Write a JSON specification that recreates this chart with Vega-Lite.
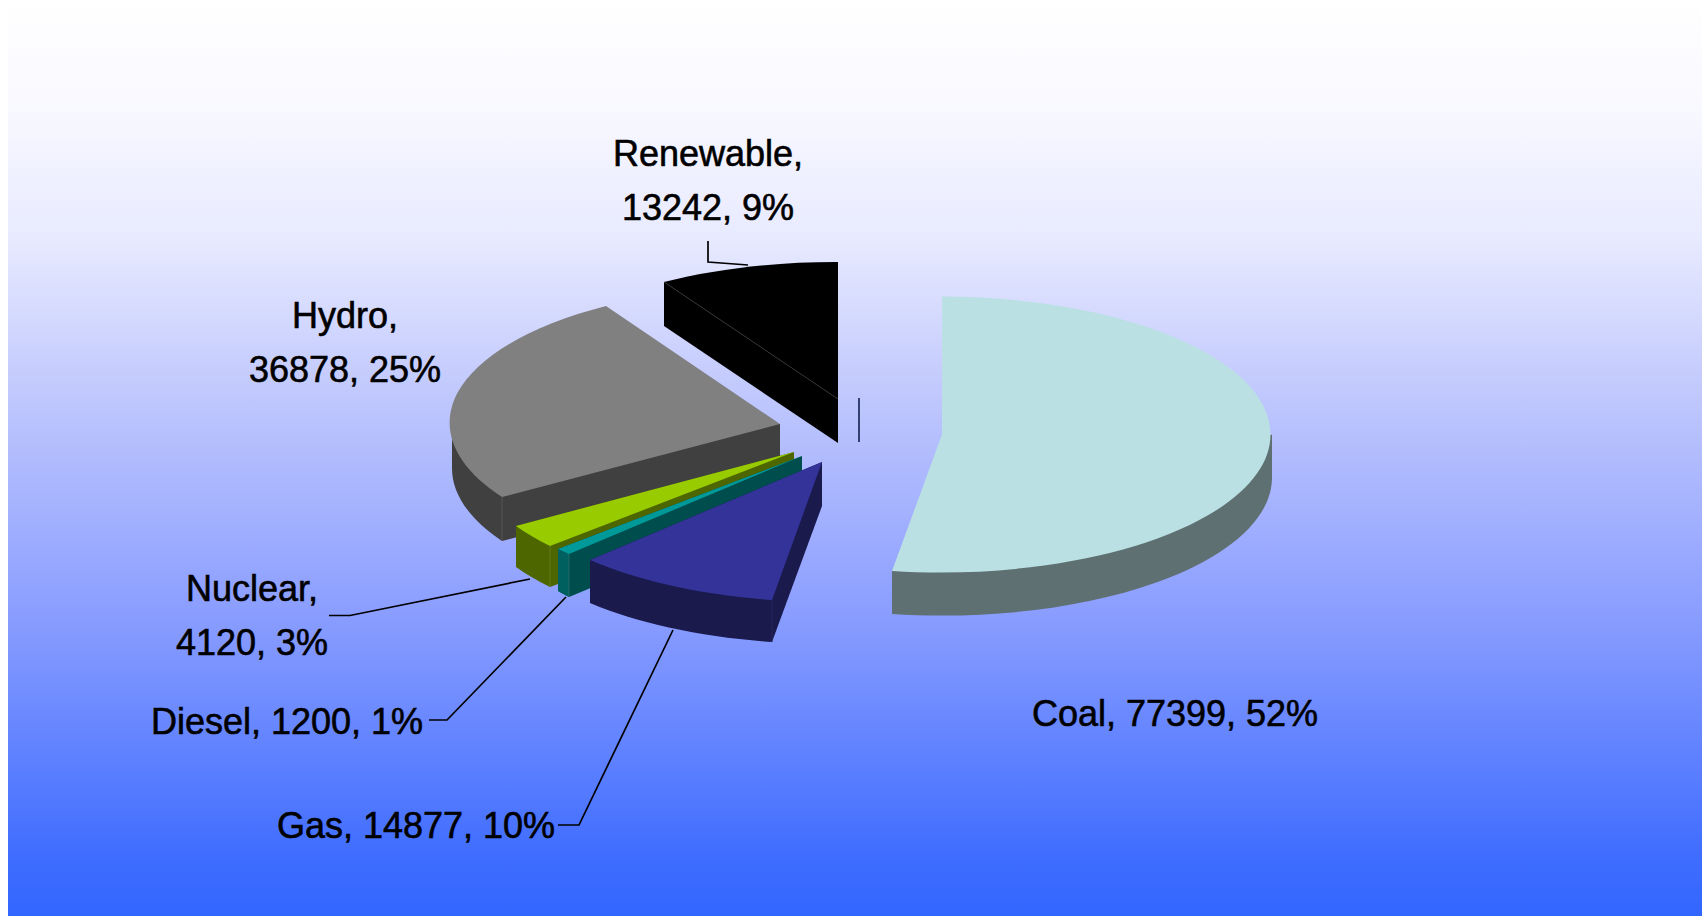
{
"$schema":"https://vega.github.io/schema/vega-lite/v6.json",
"width":1694,"height":916,
"autosize":{"type":"none"},
"padding":{"left":8,"top":0,"right":0,"bottom":0},
"background":"#ffffff",
"view":{"stroke":null,"fill":{"gradient":"linear","x1":0,"y1":0,"x2":0,"y2":1,"stops":[{"offset":0,"color":"#ffffff"},{"offset":0.12,"color":"#f8f8ff"},{"offset":0.26,"color":"#e8eaff"},{"offset":0.43,"color":"#c0c8fd"},{"offset":0.61,"color":"#98a8ff"},{"offset":0.69,"color":"#859aff"},{"offset":0.94,"color":"#3e6cff"},{"offset":1,"color":"#3366ff"}]}},
"data":{"values":[
{"source":"Renewable","mw":13242,"share":9,"label":"Renewable,\n13242, 9%"},
{"source":"Hydro","mw":36878,"share":25,"label":"Hydro,\n36878, 25%"},
{"source":"Coal","mw":77399,"share":52,"label":"Coal, 77399, 52%"},
{"source":"Nuclear","mw":4120,"share":3,"label":"Nuclear,\n4120, 3%"},
{"source":"Diesel","mw":1200,"share":1,"label":"Diesel, 1200, 1%"},
{"source":"Gas","mw":14877,"share":10,"label":"Gas, 14877, 10%"}
]},
"layer":[
{"mark":{"type":"point","filled":true,"size":4,"opacity":1},
 "encoding":{
  "shape":{"field":"source","type":"nominal","legend":null,"scale":{"domain":["Renewable","Hydro","Coal","Nuclear","Diesel","Gas"],"range":[
   "M-191 -176L-191 -132L-17 -15L-17 -59Z",
   "M-403 -34L-403 10A328 137 0 0 0 -353 83L-75 10L-75 -34Z",
   "M417 -23.5L417 19.5A330 138 0 0 1 37 156L37 113Z",
   "M-339 68L-339 109A330 137 0 0 0 -305 129L-61 38L-61 -6Z",
   "M-297 91L-297 133A330 137 0 0 0 -286 139L-53 42L-53 -2Z",
   "M-265 102L-265 145A330 137 0 0 0 -83 184L-33 48L-33 4Z"]}},
  "color":{"field":"source","type":"nominal","legend":null,"scale":{"domain":["Renewable","Hydro","Coal","Nuclear","Diesel","Gas"],"range":["#000000","#404040","#5e7072","#4d6600","#004d4d","#1a1a4d"]}}
 }},
{"transform":[{"filter":"datum.source === 'Diesel'"}],
 "mark":{"type":"point","filled":true,"size":4,"opacity":1},
 "encoding":{
  "shape":{"field":"source","type":"nominal","legend":null,"scale":{"domain":["Diesel"],"range":["M-297 91L-297 133A330 137 0 0 0 -286 139L-286 96Z"]}},
  "color":{"value":"#005f5f"}
 }},
{"mark":{"type":"point","filled":true,"size":4,"opacity":1},
 "encoding":{
  "shape":{"field":"source","type":"nominal","legend":null,"scale":{"domain":["Renewable","Hydro","Coal","Nuclear","Diesel","Gas"],"range":[
   "M-17 -59L-191 -176A330 137 0 0 1 -17 -196Z",
   "M-75 -34L-249 -152A328 137 0 0 0 -353 39Z",
   "M87 -23.5L87 -161.5A330 138 0 1 1 37 113Z",
   "M-61 -6L-339 68A330 137 0 0 0 -305 88Z",
   "M-53 -2L-297 91A330 137 0 0 0 -286 96Z",
   "M-33 4L-265 102A330 137 0 0 0 -83 142Z"]}},
  "color":{"field":"source","type":"nominal","legend":null,"scale":{"domain":["Renewable","Hydro","Coal","Nuclear","Diesel","Gas"],"range":["#000000","#808080","#bbe0e3","#99cc00","#009999","#333399"]}}
 }},
{"transform":[{"filter":"datum.source !== 'Coal'"}],
 "mark":{"type":"point","filled":false,"size":4,"opacity":1,"strokeWidth":0.8},
 "encoding":{
  "shape":{"field":"source","type":"nominal","legend":null,"scale":{"domain":["Renewable","Hydro","Nuclear","Diesel","Gas"],"range":[
   "M-191 -176L-17 -59",
   "M-353 39L-353 83",
   "M-305 88L-305 129",
   "M-286 96L-286 139",
   "M-83 142L-83 184"]}},
  "color":{"field":"source","type":"nominal","legend":null,"scale":{"domain":["Renewable","Hydro","Nuclear","Diesel","Gas"],"range":["#333333","#5a5a5a","#6a7d2a","#2a7070","#2a2a66"]}}
 }},
{"transform":[{"filter":"datum.source !== 'Hydro'"}],
 "mark":{"type":"point","filled":false,"size":4,"opacity":1,"strokeWidth":1.7},
 "encoding":{
  "shape":{"field":"source","type":"nominal","legend":null,"scale":{"domain":["Renewable","Coal","Nuclear","Diesel","Gas"],"range":[
   "M-147 -217L-147 -196L-107 -193",
   "M4 -60L4 -16",
   "M-526 157.5L-505 157.5L-325 121",
   "M-426 262L-408 262L-289 139",
   "M-297 367L-276 367L-182 172"]}},
  "color":{"field":"source","type":"nominal","legend":null,"scale":{"domain":["Renewable","Coal","Nuclear","Diesel","Gas"],"range":["#000000","#1a2a5a","#000000","#000000","#000000"]}}
 }},
{"mark":{"type":"text","font":"Liberation Sans","fontSize":36,"fontWeight":"normal","fill":"#000000","stroke":"#000000","strokeWidth":0.6,"lineBreak":"\n","lineHeight":54,"align":"center","baseline":"middle"},
 "encoding":{
  "text":{"field":"label","type":"nominal"},
  "x":{"field":"mw","type":"quantitative","axis":null,"scale":{"domain":[1200,4120,13242,14877,36878,77399],"range":[279,244,700,408,337,1167],"nice":false,"zero":false}},
  "y":{"field":"mw","type":"quantitative","axis":null,"scale":{"domain":[1200,4120,13242,14877,36878,77399],"range":[723,590,155,827,317,715],"nice":false,"zero":false}}
 }}
],
"resolve":{"scale":{"shape":"independent","color":"independent","x":"independent","y":"independent"}}
}
